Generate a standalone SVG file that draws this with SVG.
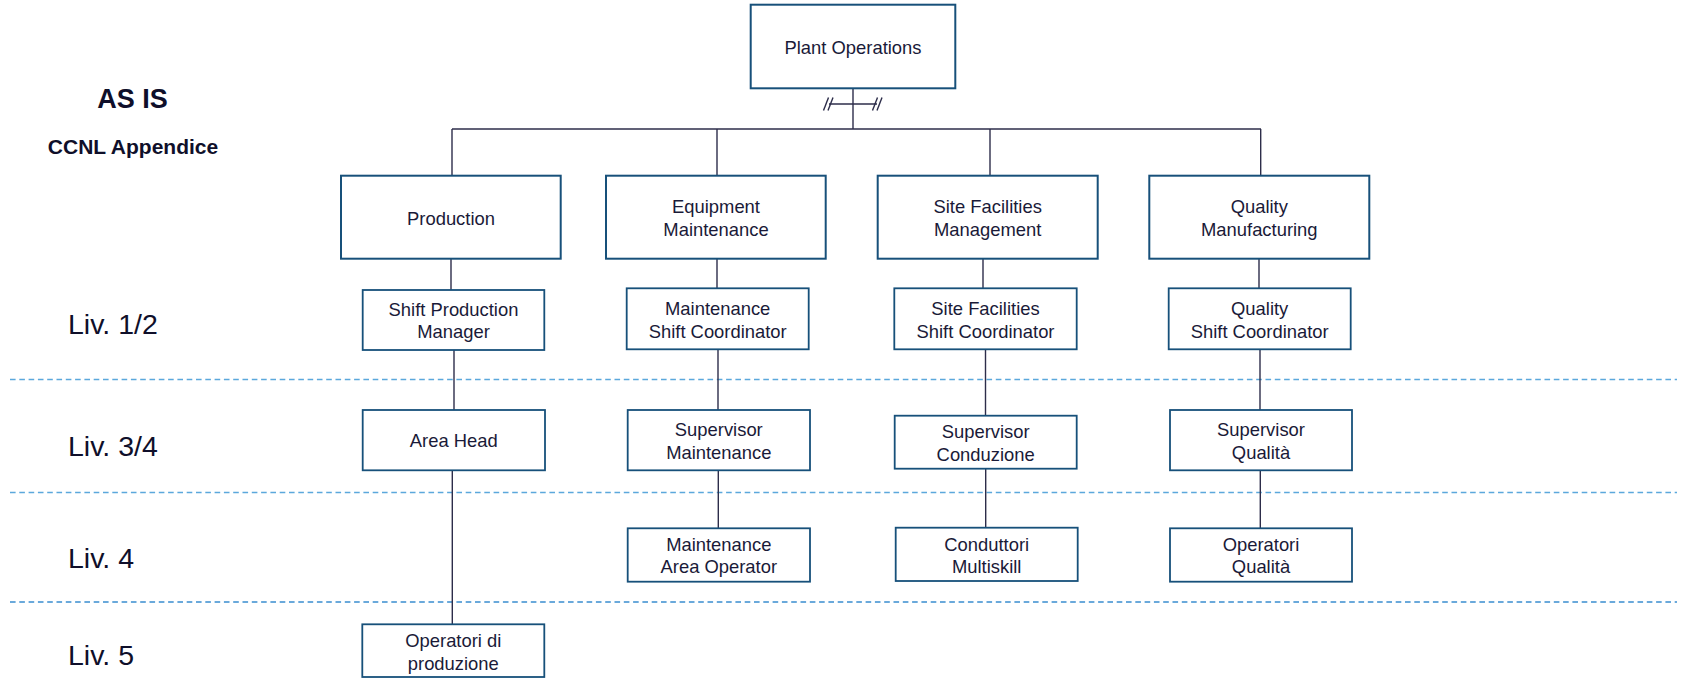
<svg xmlns="http://www.w3.org/2000/svg" width="1687" height="678" viewBox="0 0 1687 678">
<style>
.bg{fill:#ffffff}
.box{fill:#ffffff;stroke:#17507A;stroke-width:2}
.box2{fill:#ffffff;stroke:#17507A;stroke-width:1.8}
.t{font-family:"Liberation Sans",Arial,sans-serif;font-size:18.4px;fill:#1A1A38;text-anchor:middle}
.lv{font-family:"Liberation Sans",Arial,sans-serif;font-size:28.5px;fill:#0F0F2A}
.hd{font-family:"Liberation Sans",Arial,sans-serif;font-weight:bold;fill:#0F0F2A;text-anchor:middle}
.c{stroke:#2D2D4A;stroke-width:1.4;fill:none}
.dash{stroke:#5BA8DC;stroke-width:1.7;stroke-dasharray:5.6 3.7;fill:none}
.dash2{stroke:#3A8DCF;stroke-width:1.7;stroke-dasharray:5.6 3.7;fill:none}
</style>
<rect class="bg" x="0" y="0" width="1687" height="678"/>

<g id="titles">
<text class="hd" x="132.5" y="107.5" font-size="27px">AS IS</text>
<text class="hd" x="133" y="154.3" font-size="21px">CCNL Appendice</text>
</g>

<g id="levels">
<text class="lv" x="68" y="333.8">Liv. 1/2</text>
<text class="lv" x="68" y="456.2">Liv. 3/4</text>
<text class="lv" x="68" y="568.2">Liv. 4</text>
<text class="lv" x="68" y="664.5">Liv. 5</text>
</g>

<g id="level-separators">
<line class="dash" x1="10" y1="379.5" x2="1677" y2="379.5"/>
<line class="dash" x1="10" y1="492.5" x2="1677" y2="492.5"/>
<line class="dash2" x1="10" y1="602" x2="1677" y2="602"/>
</g>

<g id="connectors">
<line class="c" x1="853" y1="88" x2="853" y2="129"/>
<line class="c" x1="829" y1="104" x2="877" y2="104"/>
<line class="c" x1="823.5" y1="110.5" x2="828.5" y2="97.5"/>
<line class="c" x1="828" y1="110.5" x2="833" y2="97.5"/>
<line class="c" x1="872.5" y1="110.5" x2="877.5" y2="97.5"/>
<line class="c" x1="877" y1="110.5" x2="882" y2="97.5"/>
<line class="c" x1="452" y1="129" x2="1261" y2="129"/>
<line class="c" x1="452" y1="129" x2="452" y2="176"/>
<line class="c" x1="717" y1="129" x2="717" y2="176"/>
<line class="c" x1="990" y1="129" x2="990" y2="176"/>
<line class="c" x1="1260.7" y1="129" x2="1260.7" y2="176"/>
<line class="c" x1="451" y1="259" x2="451" y2="290"/>
<line class="c" x1="454" y1="350" x2="454" y2="410"/>
<line class="c" x1="452.3" y1="470" x2="452.3" y2="624"/>
<line class="c" x1="717" y1="259" x2="717" y2="288.5"/>
<line class="c" x1="718" y1="349" x2="718" y2="410"/>
<line class="c" x1="718.3" y1="470" x2="718.3" y2="528.5"/>
<line class="c" x1="983" y1="259" x2="983" y2="288.5"/>
<line class="c" x1="985.5" y1="349" x2="985.5" y2="416"/>
<line class="c" x1="985.7" y1="469" x2="985.7" y2="528"/>
<line class="c" x1="1259" y1="259" x2="1259" y2="288.5"/>
<line class="c" x1="1260" y1="349" x2="1260" y2="410"/>
<line class="c" x1="1260.3" y1="470" x2="1260.3" y2="528.5"/>
</g>

<g id="plant-operations">
<rect class="box" x="750.7" y="4.7" width="204.6" height="83.6"/>
<text class="t" x="853" y="53.5">Plant Operations</text>
</g>

<g id="production">
<rect class="box" x="341" y="175.7" width="219.7" height="83"/>
<text class="t" x="451" y="224.5">Production</text>
</g>
<g id="equipment-maintenance">
<rect class="box" x="606" y="175.7" width="219.7" height="83"/>
<text class="t" x="716" y="213.3">Equipment</text>
<text class="t" x="716" y="235.7">Maintenance</text>
</g>
<g id="site-facilities-management">
<rect class="box" x="877.7" y="175.7" width="220" height="83"/>
<text class="t" x="987.7" y="213.3">Site Facilities</text>
<text class="t" x="987.7" y="235.7">Management</text>
</g>
<g id="quality-manufacturing">
<rect class="box" x="1149.3" y="175.7" width="220" height="83"/>
<text class="t" x="1259.3" y="213.3">Quality</text>
<text class="t" x="1259.3" y="235.7">Manufacturing</text>
</g>

<g id="shift-production-manager">
<rect class="box2" x="362.7" y="290" width="181.6" height="60"/>
<text class="t" x="453.5" y="315.7">Shift Production</text>
<text class="t" x="453.5" y="338.3">Manager</text>
</g>
<g id="maintenance-shift-coordinator">
<rect class="box2" x="626.7" y="288.3" width="182" height="61"/>
<text class="t" x="717.7" y="315">Maintenance</text>
<text class="t" x="717.7" y="337.7">Shift Coordinator</text>
</g>
<g id="site-facilities-shift-coordinator">
<rect class="box2" x="894.3" y="288.3" width="182.4" height="61"/>
<text class="t" x="985.5" y="315">Site Facilities</text>
<text class="t" x="985.5" y="337.7">Shift Coordinator</text>
</g>
<g id="quality-shift-coordinator">
<rect class="box2" x="1168.7" y="288.3" width="182" height="61"/>
<text class="t" x="1259.7" y="315">Quality</text>
<text class="t" x="1259.7" y="337.7">Shift Coordinator</text>
</g>

<g id="area-head">
<rect class="box2" x="362.7" y="410" width="182.3" height="60.3"/>
<text class="t" x="453.8" y="447.3">Area Head</text>
</g>
<g id="supervisor-maintenance">
<rect class="box2" x="627.7" y="410" width="182.3" height="60.3"/>
<text class="t" x="718.8" y="436">Supervisor</text>
<text class="t" x="718.8" y="459">Maintenance</text>
</g>
<g id="supervisor-conduzione">
<rect class="box2" x="894.7" y="415.7" width="182" height="53"/>
<text class="t" x="985.7" y="437.7">Supervisor</text>
<text class="t" x="985.7" y="460.7">Conduzione</text>
</g>
<g id="supervisor-qualita">
<rect class="box2" x="1170" y="410" width="182" height="60.3"/>
<text class="t" x="1261" y="436">Supervisor</text>
<text class="t" x="1261" y="459">Qualità</text>
</g>

<g id="maintenance-area-operator">
<rect class="box2" x="627.7" y="528.3" width="182.3" height="53.4"/>
<text class="t" x="718.8" y="550.7">Maintenance</text>
<text class="t" x="718.8" y="573.3">Area Operator</text>
</g>
<g id="conduttori-multiskill">
<rect class="box2" x="895.7" y="527.7" width="182" height="53.3"/>
<text class="t" x="986.7" y="550.7">Conduttori</text>
<text class="t" x="986.7" y="573.3">Multiskill</text>
</g>
<g id="operatori-qualita">
<rect class="box2" x="1170" y="528.3" width="182" height="53.4"/>
<text class="t" x="1261" y="550.7">Operatori</text>
<text class="t" x="1261" y="573.3">Qualità</text>
</g>

<g id="operatori-di-produzione">
<rect class="box2" x="362.3" y="624.3" width="182" height="52.7"/>
<text class="t" x="453.3" y="647.3">Operatori di</text>
<text class="t" x="453.3" y="670">produzione</text>
</g>
</svg>
